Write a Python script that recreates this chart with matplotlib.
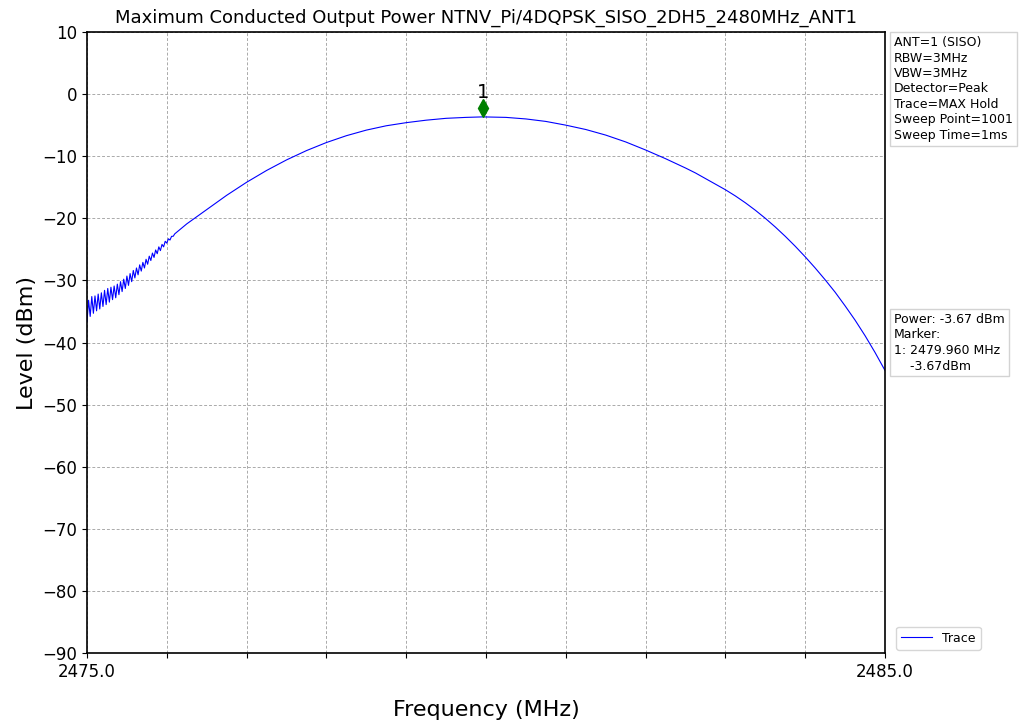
import matplotlib
matplotlib.use('Agg')
import matplotlib.pyplot as plt
import numpy as np

# noisy start of the trace
noise_freq = [2475.00, 2475.02, 2475.04, 2475.06, 2475.08, 2475.10, 2475.12, 2475.14,
              2475.16, 2475.18, 2475.20, 2475.22, 2475.24, 2475.26, 2475.28, 2475.30,
              2475.32, 2475.34, 2475.36, 2475.38, 2475.40, 2475.42, 2475.44, 2475.46,
              2475.48, 2475.50, 2475.52, 2475.54, 2475.56, 2475.58, 2475.60, 2475.62,
              2475.64, 2475.66, 2475.68, 2475.70, 2475.72, 2475.74, 2475.76, 2475.78,
              2475.80, 2475.82, 2475.84, 2475.86, 2475.88, 2475.90, 2475.92, 2475.94,
              2475.96, 2475.98, 2476.00, 2476.02, 2476.04, 2476.06, 2476.08, 2476.10]
noise_level = [-36.6, -33.2, -35.8, -32.6, -35.3, -32.5, -34.9, -32.2,
               -34.6, -32.0, -34.2, -31.6, -33.9, -31.3, -33.5, -31.1,
               -33.1, -30.9, -32.8, -30.6, -32.3, -30.2, -31.8, -29.8,
               -31.3, -29.3, -30.8, -28.9, -30.2, -28.4, -29.6, -28.0,
               -29.1, -27.5, -28.5, -27.1, -28.0, -26.6, -27.4, -26.1,
               -26.8, -25.6, -26.3, -25.1, -25.7, -24.6, -25.2, -24.2,
               -24.6, -23.7, -24.0, -23.3, -23.5, -22.9, -22.9, -22.5]

# smooth part of the trace
smooth_freq = [2476.25, 2476.5, 2476.75, 2477.0, 2477.25, 2477.5, 2477.75, 2478.0,
               2478.25, 2478.5, 2478.75, 2479.0, 2479.25, 2479.5, 2479.75, 2479.96,
               2480.25, 2480.5, 2480.75, 2481.0, 2481.25, 2481.5, 2481.75, 2482.0,
               2482.25, 2482.5, 2482.625, 2482.75, 2482.875, 2483.0, 2483.125, 2483.25,
               2483.375, 2483.5, 2483.625, 2483.75, 2483.875, 2484.0, 2484.125, 2484.25,
               2484.375, 2484.5, 2484.625, 2484.75, 2484.875, 2485.0]
smooth_level = [-20.9, -18.6, -16.3, -14.2, -12.3, -10.6, -9.1, -7.8,
                -6.7, -5.8, -5.1, -4.6, -4.2, -3.9, -3.75, -3.67,
                -3.75, -4.0, -4.4, -5.0, -5.7, -6.6, -7.7, -9.0,
                -10.4, -11.9, -12.7, -13.6, -14.5, -15.4, -16.4, -17.5,
                -18.7, -20.0, -21.4, -22.9, -24.5, -26.2, -28.0, -29.9,
                -31.9, -34.1, -36.4, -38.9, -41.6, -44.5]

marker_freq = 2479.96
marker_level = -2.3

title = 'Maximum Conducted Output Power NTNV_Pi/4DQPSK_SISO_2DH5_2480MHz_ANT1'
info_text = 'ANT=1 (SISO)\nRBW=3MHz\nVBW=3MHz\nDetector=Peak\nTrace=MAX Hold\nSweep Point=1001\nSweep Time=1ms'
marker_text = 'Power: -3.67 dBm\nMarker:\n1: 2479.960 MHz\n    -3.67dBm'

freq = noise_freq + smooth_freq
level = noise_level + smooth_level

fig = plt.figure(figsize=(10.23, 7.23), dpi=100)
ax = fig.add_axes([87/1023, 1-653/723, (885-87)/1023, (653-32)/723])

ax.plot(freq, level, color='blue', linewidth=0.8, label='Trace')
ax.plot(marker_freq, marker_level, marker='d', color='green', markersize=9, linestyle='none')
ax.text(marker_freq, marker_level + 1.0, '1', ha='center', va='bottom', fontsize=14)

ax.set_xlim(2475, 2485)
ax.set_ylim(-90, 10)
xt = np.arange(2475, 2486, 1)
ax.set_xticks(xt)
ax.set_xticklabels(['2475.0'] + [''] * 9 + ['2485.0'], fontsize=12)
ax.set_yticks(np.arange(-90, 11, 10))
ax.tick_params(axis='y', labelsize=12)
ax.grid(True, linestyle=(0, (3, 2)), color='#aaaaaa', linewidth=0.7)
for s in ax.spines.values():
    s.set_linewidth(1.2)

ax.set_title(title, fontsize=13, pad=7)
ax.set_xlabel('Frequency (MHz)', fontsize=16, labelpad=14)
ax.set_ylabel('Level (dBm)', fontsize=16)

box = dict(boxstyle='square,pad=0.3', fc='white', ec='lightgray')
fig.text(894/1023, 1-36/723, info_text, fontsize=9, va='top', ha='left', bbox=box, linespacing=1.25)
fig.text(894/1023, 1-313/723, marker_text, fontsize=9, va='top', ha='left', bbox=box, linespacing=1.25)

ax.legend(loc='lower left', bbox_to_anchor=(1.006, -0.005), fontsize=9, fancybox=True,
          handlelength=2.5)

fig.savefig('out.png', dpi=100)
